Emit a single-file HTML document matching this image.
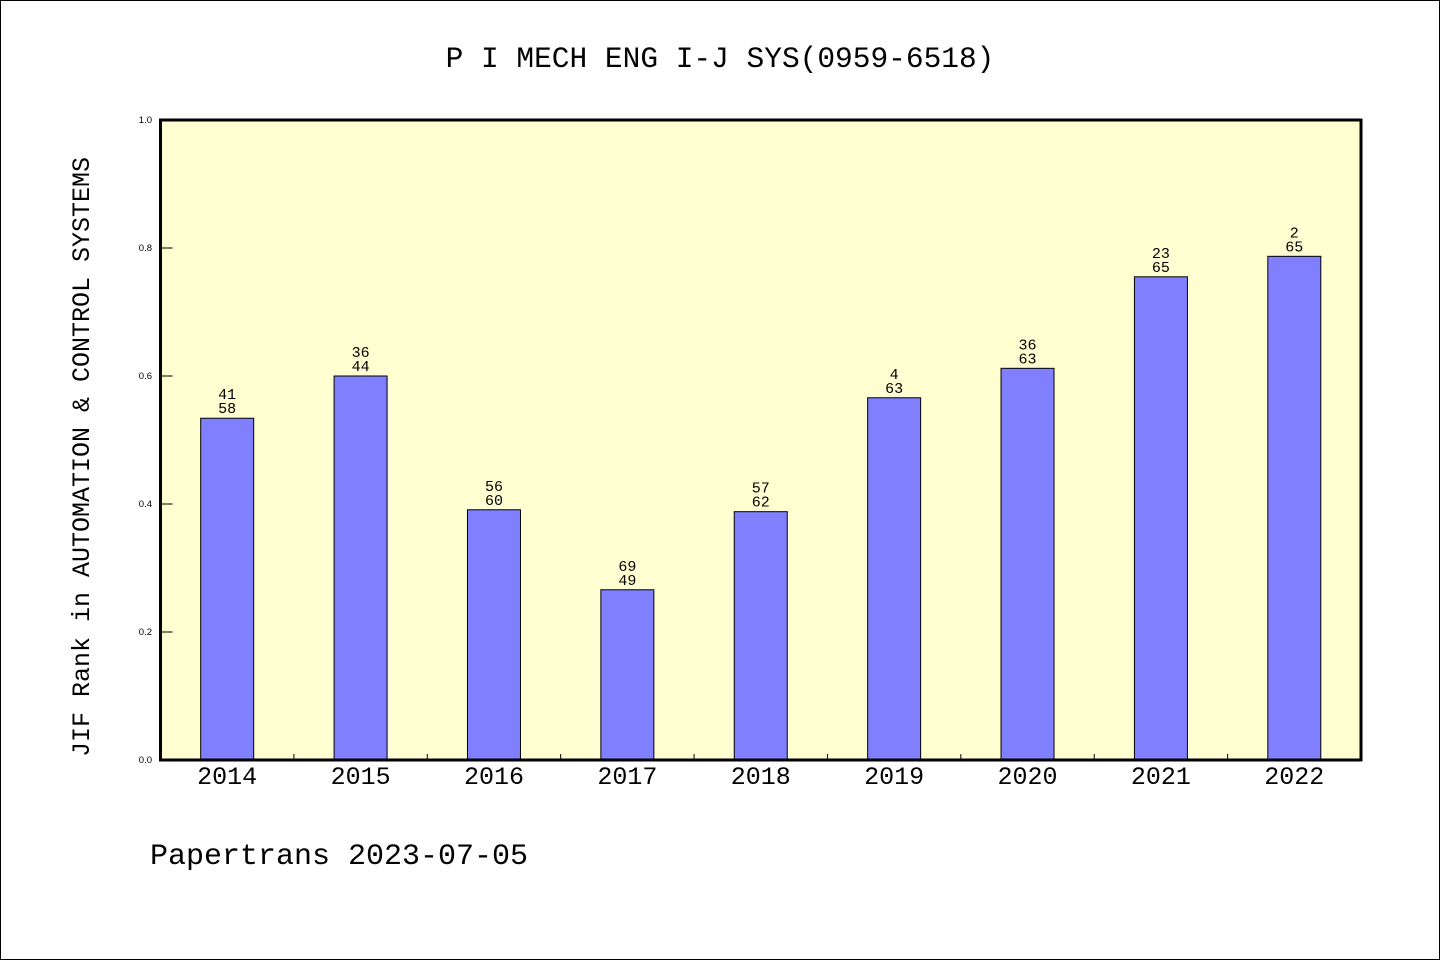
<!DOCTYPE html>
<html><head><meta charset="utf-8">
<style>
html,body{margin:0;padding:0;background:#fff;}
#wrap{position:relative;width:1440px;height:960px;box-sizing:border-box;border:1px solid #000;background:#fff;overflow:hidden;}
svg text{font-family:"Liberation Mono","WenQuanYi Zen Hei",monospace;fill:#000;}
</style></head>
<body>
<div id="wrap">
<svg id="chart" width="1438" height="958" viewBox="1 1 1438 958"></svg>
</div>
<script>
const categories = ["2014","2015","2016","2017","2018","2019","2020","2021","2022"];
const values = [0.534, 0.600, 0.391, 0.266, 0.388, 0.566, 0.612, 0.755, 0.787];
const rankTop = ["41","36","56","69","57","4","36","23","2"];
const rankBottom = ["58","44","60","49","62","63","63","65","65"];
const yTicks = [0, 0.2, 0.4, 0.6, 0.8, 1.0];
const yTickLabels = ["0.0","0.2","0.4","0.6","0.8","1.0"];

const NS = "http://www.w3.org/2000/svg";
const svg = document.getElementById("chart");
const L = 160.5, R = 1361, T = 120, B = 760;
const step = (R - L) / categories.length;
const xC = i => L + step * (i + 0.5);
const y = v => B - (B - T) * v;
function mk(tag, attrs, parent){const e=document.createElementNS(NS,tag);for(const k in attrs)e.setAttribute(k,attrs[k]);(parent||svg).appendChild(e);return e;}

const t = mk("text",{x:720,y:67,"text-anchor":"middle","font-size":"29.5"});
t.textContent = "P I MECH ENG I-J SYS(0959-6518)";



const bg = mk("rect",{x:L,y:T,width:R-L,height:B-T,fill:"#ffffd2"});



categories.forEach((c,i)=>{
  const bw = 53;
  const r = mk("rect",{x:xC(i)-bw/2,y:y(values[i]),width:bw,height:B-y(values[i]),fill:"#8080ff",stroke:"#000","stroke-width":"1"});
  
  
  const a = mk("text",{x:xC(i),y:y(values[i])-19,"text-anchor":"middle","font-size":"15"});
  a.textContent = rankTop[i];
  
  
  const b = mk("text",{x:xC(i),y:y(values[i])-5,"text-anchor":"middle","font-size":"15"});
  b.textContent = rankBottom[i];
  
  
  const xl = mk("text",{x:xC(i),y:784,"text-anchor":"middle","font-size":"25"});
  xl.textContent = c;
  
  
  if(i>0){
    const tk = mk("line",{x1:L+step*i,x2:L+step*i,y1:B,y2:B-6,stroke:"#000","stroke-width":"1"});
    
    
  }
});

yTicks.forEach((v,i)=>{
  const tk = mk("line",{x1:L,x2:L+12,y1:y(v),y2:y(v),stroke:"#000","stroke-width":"1"});
  
  
  const lb = mk("text",{x:152,y:y(v)+3,"text-anchor":"end","font-size":"9.5","style":"font-family:'Liberation Sans',sans-serif"});
  lb.textContent = yTickLabels[i];
  
  
});

const fr = mk("rect",{x:L,y:T,width:R-L,height:B-T,fill:"none",stroke:"#000","stroke-width":"3"});



const yt = mk("text",{x:0,y:0,"text-anchor":"middle","font-size":"25",transform:"translate(89,457) rotate(-90)"});
yt.textContent = "JIF Rank in AUTOMATION & CONTROL SYSTEMS";



const ft = mk("text",{x:150,y:864,"font-size":"30"});
ft.textContent = "Papertrans 2023-07-05";


</script>
</body></html>
